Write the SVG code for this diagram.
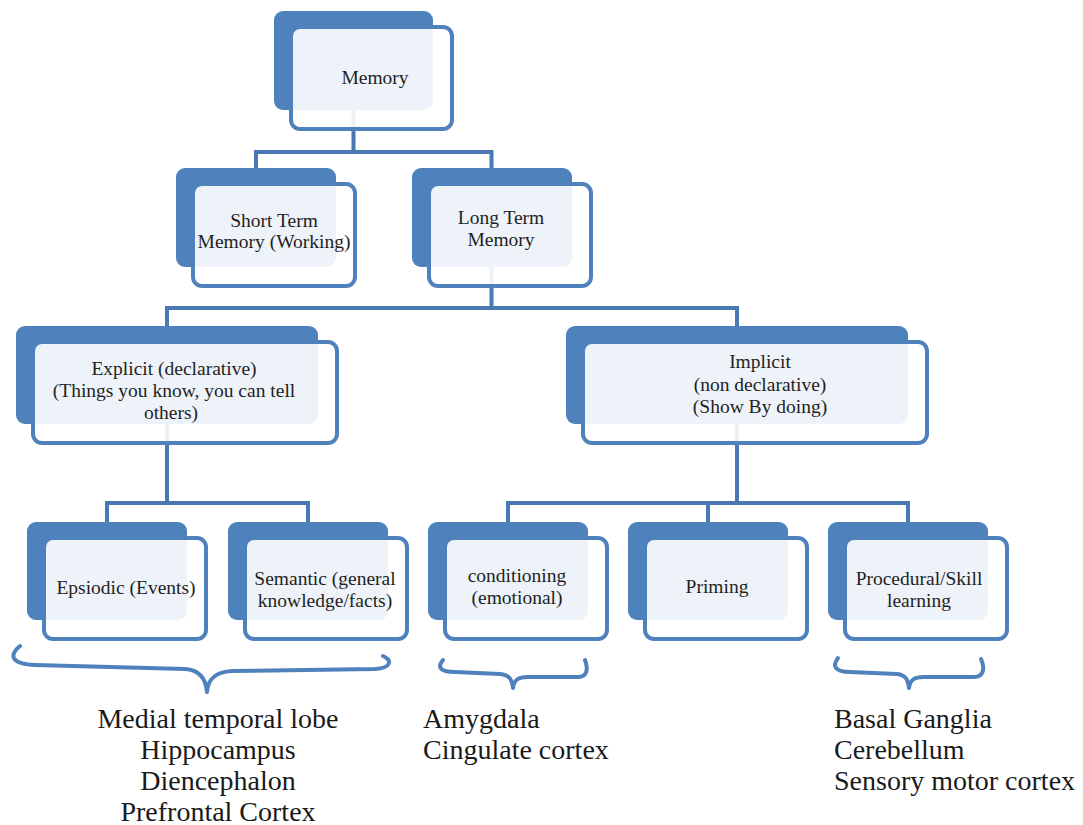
<svg xmlns="http://www.w3.org/2000/svg" width="1083" height="825" viewBox="0 0 1083 825">
<style>
.back{fill:#4f81bd}
.front{fill:#ffffff;fill-opacity:0.9;stroke:#4f81bd;stroke-width:4}
.conn{fill:none;stroke:#4a78b3;stroke-width:4}
.brace{fill:none;stroke:#4f81bd;stroke-width:4;stroke-linecap:round;stroke-linejoin:round}
.t{font-family:"Liberation Serif","Times New Roman",serif;font-size:19.5px;fill:#1f1f1f;text-anchor:middle}
.lab{font-family:"Liberation Serif","Times New Roman",serif;font-size:28px;fill:#1a1a1a}
</style>
<rect width="1083" height="825" fill="#ffffff"/>
<g id="connectors">
<path class="conn" d="M353.5,110 V152 M254,152 H493.5 M256,150 V168 M491.5,150 V168"/>
<path class="conn" d="M491.5,267 V308 M165,308 H739 M167,306 V326 M737,306 V326"/>
<path class="conn" d="M167,424 V503 M105,503 H310 M107,501 V522 M308,501 V522"/>
<path class="conn" d="M737,424 V503 M506,503 H910 M508,501 V522 M708,501 V522 M908,501 V522"/>
</g>
<g id="memory">
<rect class="back" x="274" y="11" width="159" height="99" rx="9"/>
<rect class="front" x="291" y="27" width="161" height="102" rx="9"/>
<text class="t" x="375" y="84">Memory</text>
</g>
<g id="short-term">
<rect class="back" x="176" y="168" width="160" height="99" rx="9"/>
<rect class="front" x="193" y="184" width="162" height="102" rx="9"/>
<text class="t" x="274" y="227">Short Term</text>
<text class="t" x="274" y="248">Memory (Working)</text>
</g>
<g id="long-term">
<rect class="back" x="412" y="168" width="160" height="99" rx="9"/>
<rect class="front" x="429" y="184" width="162" height="102" rx="9"/>
<text class="t" x="501" y="224">Long Term</text>
<text class="t" x="501" y="246">Memory</text>
</g>
<g id="explicit">
<rect class="back" x="16" y="326" width="302" height="98" rx="9"/>
<rect class="front" x="33" y="342" width="304" height="101" rx="9"/>
<text class="t" x="174" y="375">Explicit (declarative)</text>
<text class="t" x="174" y="397">(Things you know, you can tell</text>
<text class="t" x="171" y="419">others)</text>
</g>
<g id="implicit">
<rect class="back" x="566" y="326" width="342" height="98" rx="9"/>
<rect class="front" x="583" y="342" width="344" height="101" rx="9"/>
<text class="t" x="760" y="368">Implicit</text>
<text class="t" x="760" y="391">(non declarative)</text>
<text class="t" x="760" y="413">(Show By doing)</text>
</g>
<g id="episodic">
<rect class="back" x="27" y="522" width="160" height="98" rx="9"/>
<rect class="front" x="44" y="538" width="162" height="101" rx="9"/>
<text class="t" x="126" y="594">Epsiodic (Events)</text>
</g>
<g id="semantic">
<rect class="back" x="228" y="522" width="160" height="98" rx="9"/>
<rect class="front" x="245" y="538" width="162" height="101" rx="9"/>
<text class="t" x="325" y="585">Semantic (general</text>
<text class="t" x="325" y="607">knowledge/facts)</text>
</g>
<g id="conditioning">
<rect class="back" x="428" y="522" width="160" height="98" rx="9"/>
<rect class="front" x="445" y="538" width="162" height="101" rx="9"/>
<text class="t" x="517" y="582">conditioning</text>
<text class="t" x="517" y="604">(emotional)</text>
</g>
<g id="priming">
<rect class="back" x="628" y="522" width="160" height="98" rx="9"/>
<rect class="front" x="645" y="538" width="162" height="101" rx="9"/>
<text class="t" x="717" y="593">Priming</text>
</g>
<g id="procedural">
<rect class="back" x="828" y="522" width="160" height="98" rx="9"/>
<rect class="front" x="845" y="538" width="162" height="101" rx="9"/>
<text class="t" x="919" y="585">Procedural/Skill</text>
<text class="t" x="919" y="607">learning</text>
</g>
<g id="braces">
<path class="brace" d="M20,646 C8,656 12,664 35,665 L185,669 C200,670 206,680 207,692 C208,680 214,672 232,671 L375,669 C392,668 392,660 383,656"/>
<path class="brace" d="M443,660 C437,667 440,672 455,672 L500,674 C510,675 512,680 513,688 C514,680 518,677 528,677 L578,677 C588,677 588,668 585,660"/>
<path class="brace" d="M838,658 C832,666 835,672 850,672 L897,674 C906,675 908,680 909,688 C910,680 914,677 924,677 L974,677 C984,677 985,668 981,659"/>
</g>
<g id="labels">
<text class="lab" text-anchor="middle" x="218" y="728">Medial temporal lobe</text>
<text class="lab" text-anchor="middle" x="218" y="759">Hippocampus</text>
<text class="lab" text-anchor="middle" x="218" y="790">Diencephalon</text>
<text class="lab" text-anchor="middle" x="218" y="821">Prefrontal Cortex</text>
<text class="lab" x="423" y="728">Amygdala</text>
<text class="lab" x="423" y="759">Cingulate cortex</text>
<text class="lab" x="834" y="728">Basal Ganglia</text>
<text class="lab" x="834" y="759">Cerebellum</text>
<text class="lab" x="834" y="790">Sensory motor cortex</text>
</g>
</svg>
